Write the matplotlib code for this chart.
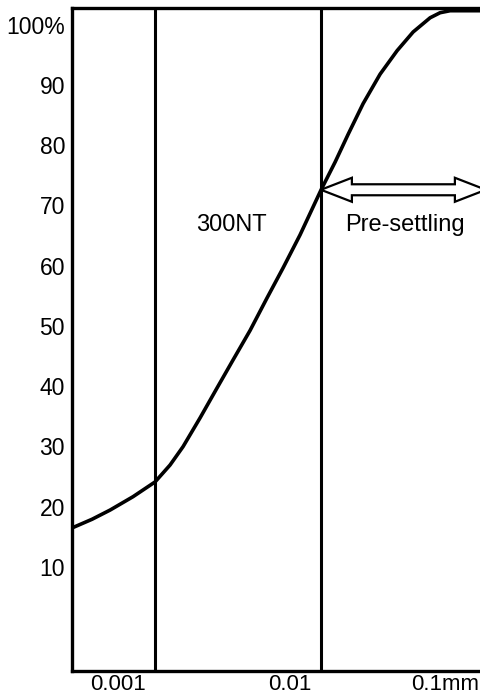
import matplotlib
matplotlib.use("Agg")
import matplotlib.pyplot as plt
import matplotlib.transforms as mtrans
from matplotlib.patches import Polygon

plt.rcParams['font.family'] = ['Liberation Sans', 'DejaVu Sans']

# grain size (mm) vs cumulative percent
sizes = [0.000540, 0.000706, 0.000899, 0.001222, 0.001641, 0.002006, 0.002387,
         0.002997, 0.003763, 0.004662, 0.005853, 0.007348, 0.009106, 0.01143,
         0.01514, 0.01827, 0.02174, 0.02657, 0.03336, 0.04189, 0.05190,
         0.06516, 0.07448, 0.08514, 0.1273]
percents = [16.45, 17.89, 19.42, 21.64, 24.09, 26.9, 29.95,
            34.72, 39.70, 44.35, 49.24, 54.65, 59.63, 65.12,
            72.59, 77.2, 81.8, 86.9, 91.8, 95.7, 98.8,
            101.16, 102.0, 102.33, 102.33]

bounds = [0.00164, 0.0151]          # 300NT / pre-settling borders
region_labels = ['300NT', 'Pre-settling']
x_ticks = [0.001, 0.01, 0.1]
x_tick_labels = ['0.001', '0.01', '0.1mm']
y_ticks = [10, 20, 30, 40, 50, 60, 70, 80, 90, 100]
y_tick_labels = ['10', '20', '30', '40', '50', '60', '70', '80', '90', '100%']

fig = plt.figure(figsize=(4.8, 6.98), dpi=100)
ax = fig.add_axes([0.15, 0.0387, 0.85, 0.95])

ax.set_xscale('log')
ax.set_xlim(0.00054, 0.127)
ax.set_ylim(-7.3, 102.8)

ax.plot(sizes, percents, color='black', lw=2.6, solid_capstyle='butt')
for b in bounds:
    ax.axvline(b, color='black', lw=2.2)

ax.text(0.00454, 66.8, region_labels[0], fontsize=17, ha='center', va='center')
ax.text(0.0467, 66.8, region_labels[1], fontsize=17, ha='center', va='center')

# hollow double arrow from the pre-settling border to the right edge
fig.canvas.draw()
x0, y0 = ax.transData.transform((bounds[1], 72.6))
x1 = x0 + 165
hl, hw, sw = 31, 12, 5.5
verts = [(x0, y0), (x0 + hl, y0 + hw), (x0 + hl, y0 + sw), (x1 - hl, y0 + sw),
         (x1 - hl, y0 + hw), (x1, y0), (x1 - hl, y0 - hw), (x1 - hl, y0 - sw),
         (x0 + hl, y0 - sw), (x0 + hl, y0 - hw)]
arrow = Polygon(verts, closed=True, facecolor='white', edgecolor='black',
                lw=1.6, transform=None, zorder=5)
fig.patches.append(arrow)

ax.set_xticks(x_ticks)
ax.set_xticklabels(x_tick_labels)
ax.xaxis.set_minor_locator(matplotlib.ticker.NullLocator())
ax.set_yticks(y_ticks)
ax.set_yticklabels(y_tick_labels)
ax.tick_params(axis='y', length=0, labelsize=16.5, pad=5)
ax.tick_params(axis='x', length=0, labelsize=16, pad=2.5)

# shift the last x label a bit to the left like in the original
lbl = ax.get_xticklabels()[2]
lbl.set_transform(lbl.get_transform() + mtrans.ScaledTranslation(-17 / 100, 0, fig.dpi_scale_trans))

ax.spines['right'].set_visible(False)
for s in ['left', 'bottom', 'top']:
    ax.spines[s].set_linewidth(2.4)

fig.savefig('out.png', dpi=100)
